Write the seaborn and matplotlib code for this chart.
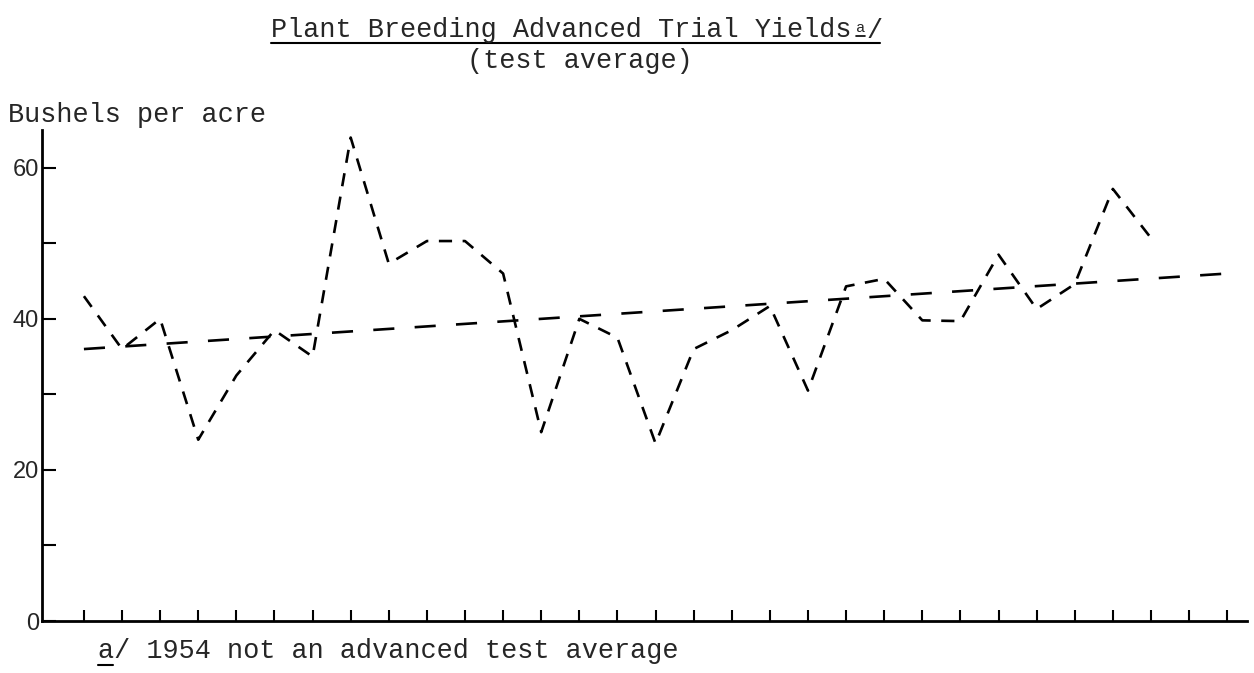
import numpy as np
import pandas as pd
import matplotlib
matplotlib.use('Agg')
import matplotlib.pyplot as plt
from matplotlib.lines import Line2D
import seaborn as sns

# values (bushels per acre, test average)
years = list(range(1930, 1959))
yields = [43, 36, 40, 24, 32.5, 38.5, 35, 64, 47.3, 50.3, 50.3, 46, 25, 40, 37.5, 23.5,
          36, 38.5, 41.7, 30.5, 44.3, 45.3, 39.8, 39.7, 48.5, 41.3, 44.6, 57.2, 50.7]
trend_years = [1930, 1960]
trend_yields = [36, 46]
tick_years = list(range(1930, 1961))
y_ticks = [0, 10, 20, 30, 40, 50, 60]
y_labels = ['0', '', '20', '', '40', '', '60']

sns.set_style('ticks')
plt.rcParams['font.family'] = ['Liberation Mono', 'DejaVu Sans']

W, H = 1254, 673
fig = plt.figure(figsize=(W / 100, H / 100), dpi=100)
ax = fig.add_axes([42 / W, 1 - 621 / H, (1247 - 42) / W, (621 - 130) / H])

df = pd.DataFrame({'year': years, 'yield': yields})
trend = pd.DataFrame({'year': trend_years, 'yield': trend_yields})

sns.lineplot(data=df, x='year', y='yield', ax=ax, color='black', lw=1.9,
             linestyle=(0, (5, 4)))
sns.lineplot(data=trend, x='year', y='yield', ax=ax, color='black', lw=1.9,
             linestyle=(0, (8, 7.7)))

ax.set_xlim(1928.9, 1960.52)
ax.set_ylim(0, 65)
ax.set_xticks(tick_years)
ax.set_xticklabels([])
ax.set_yticks(y_ticks)
ax.set_yticklabels(y_labels, family='Liberation Sans', fontsize=17)
ax.tick_params(axis='x', direction='in', length=8, width=1.5, color='black')
ax.tick_params(axis='y', direction='in', length=10, width=1.5, color='black', pad=2)
ax.set_xlabel('')
ax.set_ylabel('')
for s in ['top', 'right']:
    ax.spines[s].set_visible(False)
for s in ['left', 'bottom']:
    ax.spines[s].set_linewidth(2)
    ax.spines[s].set_color('black')


def fx(x):
    return x / W


def fy(y):
    return 1 - y / H


fs = 19.4
title = fig.text(fx(271), fy(37), 'Plant Breeding Advanced Trial Yields', fontsize=fs,
                 va='baseline', ha='left')
fig.text(fx(856), fy(32), 'a', fontsize=11, va='baseline', ha='left')
fig.text(fx(866), fy(38), '/', fontsize=fs, va='baseline', ha='left')
fig.text(fx(467), fy(68), '(test average)', fontsize=fs, va='baseline', ha='left')
fig.text(fx(8), fy(122), 'Bushels per acre', fontsize=fs, va='baseline', ha='left')
foot = fig.text(fx(98), fy(658), 'a/ 1954 not an advanced test average', fontsize=fs,
                va='baseline', ha='left')

# underlines
fig.canvas.draw()
r = fig.canvas.get_renderer()
bb = title.get_window_extent(r)
fig.add_artist(Line2D([fx(bb.x0), fx(880)], [fy(43), fy(43)], color='black', lw=1.5,
                      transform=fig.transFigure))
fig.add_artist(Line2D([fx(856), fx(865)], [fy(36), fy(36)], color='black', lw=1.2,
                      transform=fig.transFigure))
bb = foot.get_window_extent(r)
fig.add_artist(Line2D([fx(bb.x0), fx(bb.x0 + 15)], [fy(665), fy(665)], color='black',
                      lw=1.5, transform=fig.transFigure))

fig.savefig('out.png', dpi=100)
